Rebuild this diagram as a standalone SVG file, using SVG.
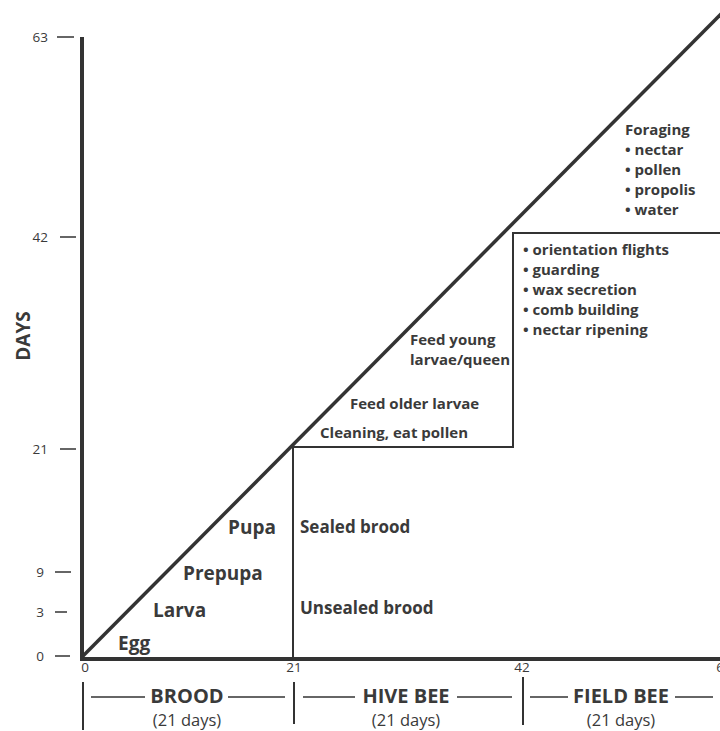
<svg xmlns="http://www.w3.org/2000/svg" width="720" height="731" viewBox="0 0 720 731">
<style>
text{font-family:"Open Sans","Liberation Sans",sans-serif;fill:#3a3a3a}
.b{font-weight:bold}
.tk{font-size:13.5px;fill:#555}
.ln{stroke:#333;fill:none}
</style>
<rect width="720" height="731" fill="#fff"/>
<g id="connectors">
<line class="ln" x1="82" y1="37" x2="82" y2="659" stroke-width="4"/>
<line class="ln" x1="80" y1="659" x2="720" y2="659" stroke-width="4"/>
<line class="ln" x1="82" y1="657" x2="722" y2="13" stroke-width="3.5"/>
<path class="ln" d="M293,659 V447 H513 V233 H720" stroke-width="2"/>
<g stroke-width="1.5" class="ln">
<line x1="57" y1="37" x2="74" y2="37"/>
<line x1="60" y1="237" x2="76" y2="237"/>
<line x1="60" y1="449" x2="76" y2="449"/>
<line x1="55" y1="572" x2="71" y2="572"/>
<line x1="55" y1="612" x2="67" y2="612"/>
<line x1="55" y1="656" x2="70" y2="656"/>
<line x1="83" y1="682" x2="83" y2="730" stroke-width="2"/>
<line x1="294" y1="682" x2="294" y2="724" stroke-width="2"/>
<line x1="523" y1="677" x2="523" y2="725" stroke-width="2"/>
<line x1="91" y1="697" x2="145" y2="697"/>
<line x1="228" y1="697" x2="285" y2="697"/>
<line x1="303" y1="697" x2="355" y2="697"/>
<line x1="457" y1="697" x2="512" y2="697"/>
<line x1="530" y1="697" x2="568" y2="697"/>
<line x1="675" y1="697" x2="713" y2="697"/>
</g>
</g>
<g id="y-axis-labels" class="tk" text-anchor="end">
<text x="48" y="42">63</text>
<text x="48" y="242">42</text>
<text x="48" y="454">21</text>
<text x="44" y="577">9</text>
<text x="44" y="617">3</text>
<text x="44" y="661">0</text>
</g>
<text id="days" class="b" font-size="19" text-anchor="middle" transform="translate(30,336) rotate(-90)">DAYS</text>
<g id="x-axis-labels" class="tk" text-anchor="middle">
<text x="85" y="672">0</text>
<text x="294" y="672">21</text>
<text x="522" y="672">42</text>
<text x="724" y="672">63</text>
</g>
<g id="brood-stages" class="b" font-size="19">
<text x="118" y="650">Egg</text>
<text x="153" y="617">Larva</text>
<text x="183" y="580">Prepupa</text>
<text x="228" y="534">Pupa</text>
</g>
<g id="brood-types" class="b" font-size="17">
<text x="300" y="533">Sealed brood</text>
<text x="300" y="614">Unsealed brood</text>
</g>
<g id="hive-tasks" class="b" font-size="15">
<text x="320" y="438">Cleaning, eat pollen</text>
<text x="350" y="409">Feed older larvae</text>
<text x="410" y="345">Feed young</text>
<text x="410" y="365">larvae/queen</text>
</g>
<g id="hive-older-tasks" class="b" font-size="15">
<text x="523" y="255">• orientation flights</text>
<text x="523" y="275">• guarding</text>
<text x="523" y="295">• wax secretion</text>
<text x="523" y="315">• comb building</text>
<text x="523" y="335">• nectar ripening</text>
</g>
<g id="foraging" class="b" font-size="15">
<text x="625" y="135">Foraging</text>
<text x="625" y="155">• nectar</text>
<text x="625" y="175">• pollen</text>
<text x="625" y="195">• propolis</text>
<text x="625" y="215">• water</text>
</g>
<g id="brood-period" text-anchor="middle">
<text class="b" x="187" y="703" font-size="20">BROOD</text>
<text x="187" y="726" font-size="16.5">(21 days)</text>
</g>
<g id="hive-bee-period" text-anchor="middle">
<text class="b" x="406" y="703" font-size="20">HIVE BEE</text>
<text x="406" y="726" font-size="16.5">(21 days)</text>
</g>
<g id="field-bee-period" text-anchor="middle">
<text class="b" x="621" y="703" font-size="20">FIELD BEE</text>
<text x="621" y="726" font-size="16.5">(21 days)</text>
</g>
</svg>
